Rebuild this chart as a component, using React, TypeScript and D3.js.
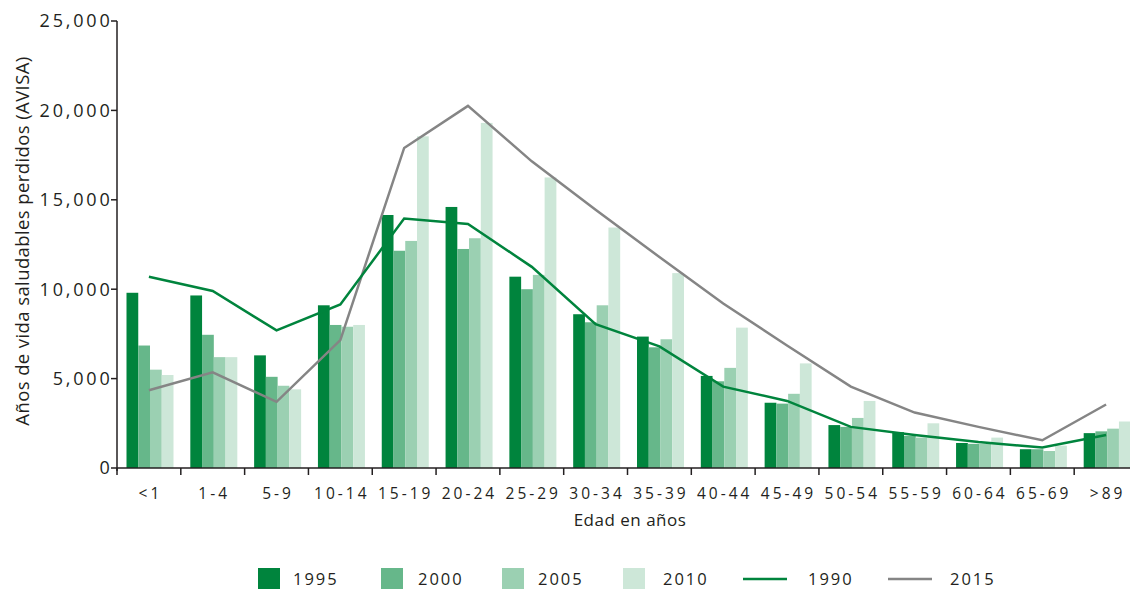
import React from "react";
import * as d3 from "d3";

const categories = ["<1", "1-4", "5-9", "10-14", "15-19", "20-24", "25-29", "30-34", "35-39", "40-44", "45-49", "50-54", "55-59", "60-64", "65-69", ">89"];
const barSeries = ["1995", "2000", "2005", "2010"];
const v1995 = [9800, 9650, 6300, 9100, 14150, 14600, 10700, 8600, 7350, 5150, 3650, 2400, 2000, 1400, 1050, 1950];
const v2000 = [6850, 7450, 5100, 8000, 12150, 12250, 10000, 8150, 6750, 4850, 3600, 2300, 1800, 1350, 1050, 2050];
const v2005 = [5500, 6200, 4600, 7900, 12700, 12850, 10800, 9100, 7200, 5600, 4150, 2800, 1700, 1350, 950, 2200];
const v2010 = [5200, 6200, 4400, 8000, 18550, 19300, 16250, 13450, 10900, 7850, 5850, 3750, 2500, 1700, 1250, 2600];
const v1990 = [10700, 9900, 7700, 9150, 13950, 13650, 11250, 8050, 6800, 4550, 3750, 2300, 1850, 1450, 1150, 1850];
const v2015 = [4350, 5350, 3700, 7150, 17900, 20250, 17150, 14450, 11800, 9200, 6850, 4550, 3100, 2300, 1550, 3550];
const yTicks = [0, 5000, 10000, 15000, 20000, 25000];

const barColors: Record<string, string> = {
  "1995": "#00843d",
  "2000": "#66b78a",
  "2005": "#9bd0b2",
  "2010": "#cde7d8",
};
const green = "#00843d";
const grey = "#858585";
const font = "'Open Sans', sans-serif";
const ink = "#231f20";

const W = 1130;
const H = 589;

export default function App() {
  const x0 = d3.scaleBand<string>().domain(categories).range([117, 1138]).padding(0);
  const x1 = d3.scaleBand<string>().domain(barSeries).range([9.5, 56.5]).padding(0);
  const y = d3.scaleLinear().domain([0, 25000]).range([468, 21]);
  const bw = x0.bandwidth();
  const values: Record<string, number[]> = { "1995": v1995, "2000": v2000, "2005": v2005, "2010": v2010 };
  const fmt = d3.format(",");

  const line = d3
    .line<number>()
    .x((_, i) => (x0(categories[i]) as number) + bw / 2)
    .y((d) => y(d));

  const legendItems = [
    { label: "1995", kind: "rect", color: barColors["1995"], x: 258, tx: 293 },
    { label: "2000", kind: "rect", color: barColors["2000"], x: 381, tx: 418 },
    { label: "2005", kind: "rect", color: barColors["2005"], x: 502, tx: 538 },
    { label: "2010", kind: "rect", color: barColors["2010"], x: 623, tx: 663 },
    { label: "1990", kind: "line", color: green, x: 743, tx: 808 },
    { label: "2015", kind: "line", color: grey, x: 888, tx: 950 },
  ];

  return (
    <svg width={W} height={H} style={{ position: "absolute", left: 0, top: 0, background: "#fff" }} fontFamily={font}>
      {/* bars */}
      {categories.map((c, i) => (
        <g key={c} transform={`translate(${x0(c)},0)`}>
          {barSeries.map((s) => (
            <rect
              key={s}
              x={x1(s)}
              y={y(values[s][i])}
              width={x1.bandwidth()}
              height={y(0) - y(values[s][i])}
              fill={barColors[s]}
            />
          ))}
        </g>
      ))}

      {/* lines */}
      <path d={line(v2015) || ""} fill="none" stroke={grey} strokeWidth={2.5} />
      <path d={line(v1990) || ""} fill="none" stroke={green} strokeWidth={2.5} />

      {/* y axis */}
      <line x1={117} x2={117} y1={y(25000)} y2={y(0) + 3} stroke={ink} strokeWidth={1.5} />
      {yTicks.map((t) => (
        <g key={t} transform={`translate(0,${y(t)})`}>
          <line x1={111} x2={117} stroke={ink} strokeWidth={1.5} />
          <text x={112.5} dy="0.36em" textAnchor="end" fontSize={18} letterSpacing={2.8} fill={ink}>
            {fmt(t)}
          </text>
        </g>
      ))}
      <text
        transform={`translate(29,241) rotate(-90)`}
        textAnchor="middle"
        fontSize={18.5}
        letterSpacing={0.4}
        fill={ink}
      >
        Años de vida saludables perdidos (AVISA)
      </text>

      {/* x axis */}
      <line x1={117} x2={W} y1={y(0)} y2={y(0)} stroke={ink} strokeWidth={1.5} />
      {categories.map((c) => (
        <g key={c} transform={`translate(${x0(c)},0)`}>
          <line x1={0} x2={0} y1={y(0)} y2={y(0) + 7} stroke={ink} strokeWidth={1.5} />
          <text x={bw / 2 + 1.5} y={499} textAnchor="middle" fontSize={15.5} letterSpacing={3} fill={ink}>
            {c}
          </text>
        </g>
      ))}
      <text x={630} y={526} textAnchor="middle" fontSize={17} letterSpacing={0.5} fill={ink}>
        Edad en años
      </text>

      {/* legend */}
      {legendItems.map((it) => (
        <g key={it.label}>
          {it.kind === "rect" ? (
            <rect x={it.x} y={568} width={22} height={21} fill={it.color} />
          ) : (
            <line x1={it.x} x2={it.x + 44} y1={579} y2={579} stroke={it.color} strokeWidth={2.5} />
          )}
          <text x={it.tx} y={585} fontSize={16.5} letterSpacing={2} fill={ink}>
            {it.label}
          </text>
        </g>
      ))}
    </svg>
  );
}
